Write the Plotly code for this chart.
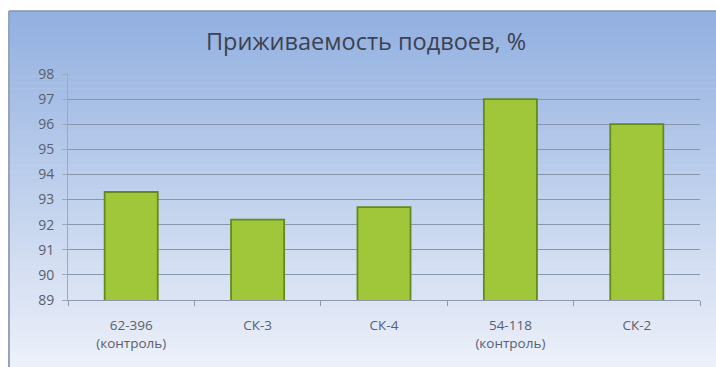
import plotly.graph_objects as go

categories = ["62-396<br>(контроль)", "СК-3", "СК-4", "54-118<br>(контроль)", "СК-2"]
values = [93.3, 92.2, 92.7, 97.0, 96.0]
y_ticks = [89, 90, 91, 92, 93, 94, 95, 96, 97, 98]
title_text = "Приживаемость подвоев, %"

W, H = 716, 367
ml, mr, mt, mb = 68, 16, 74, 67
pw, ph = W - ml - mr, H - mt - mb

def px_to_paper_x(px):
    return (px - ml) / pw

def px_to_paper_y(py):
    return (H - mb - py) / ph

# background gradient strips for the chart box
top_c = (146, 176, 224)
bot_c = (236, 240, 249)
box_l, box_t, box_r, box_b = 9, 11, 716, 367
shapes = []
n = 60
for i in range(n):
    t = i / (n - 1)
    c = tuple(int(round(top_c[k] + (bot_c[k] - top_c[k]) * t)) for k in range(3))
    y0 = box_t + (box_b - box_t) * i / n
    y1 = box_t + (box_b - box_t) * (i + 1) / n + 0.6
    shapes.append(dict(type="rect", xref="paper", yref="paper", layer="below",
                       x0=px_to_paper_x(box_l), x1=px_to_paper_x(box_r),
                       y0=px_to_paper_y(y1), y1=px_to_paper_y(y0),
                       line=dict(width=0), fillcolor="rgb(%d,%d,%d)" % c))
shapes.append(dict(type="line", xref="paper", yref="paper", layer="below",
                   x0=px_to_paper_x(box_l), x1=px_to_paper_x(box_l),
                   y0=px_to_paper_y(box_b), y1=px_to_paper_y(box_t),
                   line=dict(color="#9aa3b5", width=2)))
shapes.append(dict(type="line", xref="paper", yref="paper", layer="below",
                   x0=px_to_paper_x(box_l), x1=px_to_paper_x(box_r),
                   y0=px_to_paper_y(box_t), y1=px_to_paper_y(box_t),
                   line=dict(color="#8494b4", width=1.5)))

fig = go.Figure()
fig.add_trace(go.Bar(
    x=categories, y=values,
    marker=dict(color="#a0c63a", line=dict(color="#648a1e", width=1.8)),
    width=0.42,
))

fig.update_layout(
    width=W, height=H,
    margin=dict(l=ml, r=mr, t=mt, b=mb),
    paper_bgcolor="white",
    plot_bgcolor="rgba(0,0,0,0)",
    shapes=shapes,
    showlegend=False,
    title=dict(text=title_text, x=366 / W, xanchor="center", xref="container",
               y=1 - 42 / H, yanchor="middle",
               font=dict(family="Open Sans", size=23.5, color="#3c4250")),
    font=dict(family="Open Sans", color="#5a6070"),
)
fig.update_yaxes(range=[89, 98], tickvals=y_ticks, showgrid=True,
                 gridcolor="#8795ad", gridwidth=1, zeroline=False,
                 tickfont=dict(size=14, color="#5a6070"),
                 showline=True, linecolor="#a0a8b8", ticks="outside",
                 ticklen=5, tickcolor="#a0a8b8", ticklabelstandoff=5)
fig.update_xaxes(showline=True, linecolor="#8f98aa", linewidth=1,
                 ticks="outside", tickson="boundaries", ticklen=5,
                 tickcolor="#8f98aa", ticklabelstandoff=13,
                 tickfont=dict(size=13.5, color="#5a6070"))

fig.write_html("out.html")
